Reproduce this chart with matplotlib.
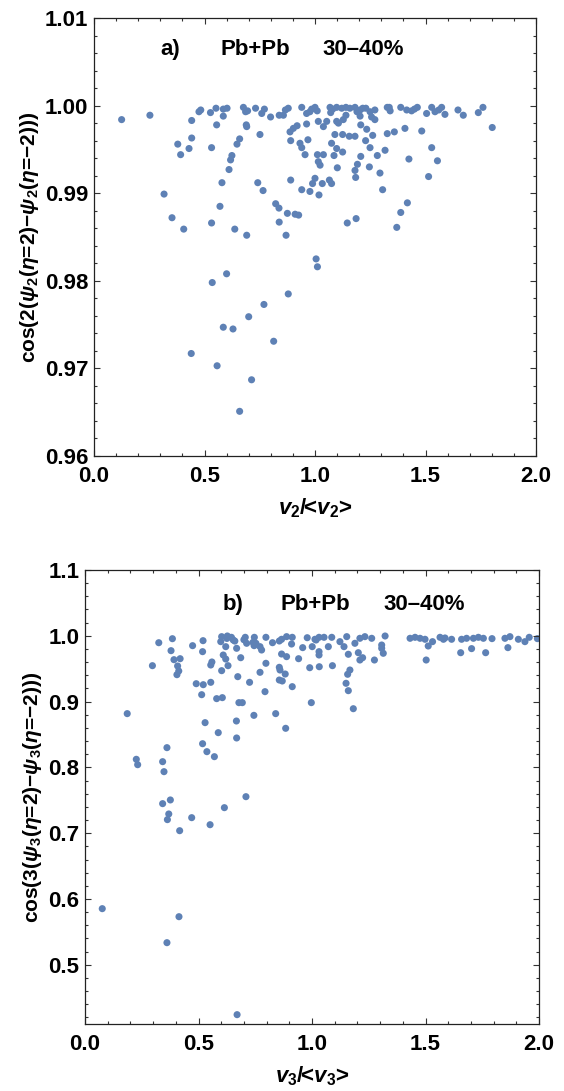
"""
Event-plane decorrelation between eta=+2 and eta=-2 vs normalized flow,
Pb+Pb 30-40%: (a) second harmonic, (b) third harmonic.
"""
import matplotlib
matplotlib.use('Agg')
import matplotlib.pyplot as plt
from matplotlib.ticker import MultipleLocator, FormatStrFormatter

# panel a) v2/<v2> vs cos(2(psi2(eta=2)-psi2(eta=-2)))
v2_ratio = [
    0.125, 0.253, 0.317, 0.353, 0.379, 0.392, 0.406, 0.430, 0.442, 0.442,
    0.475, 0.483, 0.532, 0.527, 0.532, 0.552, 0.555, 0.570, 0.579, 0.585,
    0.585, 0.602, 0.611, 0.618, 0.624, 0.637, 0.647, 0.659, 0.676, 0.686,
    0.689, 0.691, 0.695, 0.731, 0.741, 0.751, 0.759, 0.765, 0.771, 0.799,
    0.822, 0.837, 0.838, 0.838, 0.857, 0.875, 0.866, 0.879, 0.887, 0.890,
    0.890, 0.902, 0.910, 0.919, 0.926, 0.932,
    0.691, 0.869, 1.005, 1.011, 0.535, 0.600, 0.879, 0.769, 0.700, 0.585,
    0.629, 0.813, 0.440, 0.557, 0.713, 0.659,
    0.940, 0.962, 0.977, 1.000, 1.068, 1.071, 1.098, 1.121, 1.158, 1.181,
    1.204, 1.216, 1.249, 1.271, 1.327, 1.336, 1.388, 1.415, 1.437, 1.463,
    1.505, 1.528, 1.543, 1.573, 1.588, 1.647, 1.671, 1.739, 1.760, 1.802,
    0.985, 1.010, 1.080, 1.140, 1.190, 1.230, 1.340, 1.450, 1.560,
    0.962, 1.015, 1.038, 1.053, 1.098, 1.106, 1.128, 1.140, 1.204, 1.207,
    1.256, 1.271, 1.234, 1.261, 1.090, 1.125, 1.155, 1.181, 1.229, 1.327,
    1.359, 1.407, 1.483, 0.968, 1.075, 1.098, 1.125, 0.940, 0.955, 1.011,
    1.038, 1.015, 1.023, 1.086, 1.101, 1.207, 1.192, 1.181, 1.246, 1.249,
    1.282, 1.317, 1.425, 1.528, 1.554, 1.184, 1.294, 1.306, 1.514, 1.000,
    0.989, 1.033, 1.065, 1.075, 0.940, 0.977, 1.018, 1.418, 1.388, 1.370,
    1.146, 1.186,
]
cos2 = [
    0.9984, 0.9989, 0.9899, 0.9872, 0.9956, 0.9944, 0.9859, 0.9951, 0.9963, 0.9983,
    0.9993, 0.9995, 0.9952, 0.9992, 0.9866, 0.9997, 0.9978, 0.9885, 0.9912, 0.9988,
    0.9996, 0.9997, 0.9927, 0.9938, 0.9943, 0.9859, 0.9956, 0.9962, 0.9998, 0.9993,
    0.9978, 0.9976, 0.9994, 0.9997, 0.9912, 0.9967, 0.9991, 0.9903, 0.9996, 0.9987,
    0.9888, 0.9883, 0.9867, 0.9989, 0.9989, 0.9877, 0.9995, 0.9997, 0.9970, 0.9960,
    0.9915, 0.9974, 0.9876, 0.9977, 0.9875, 0.9957,
    0.9852, 0.9852, 0.9825, 0.9816, 0.9798, 0.9808, 0.9785, 0.9773, 0.9759, 0.9747,
    0.9745, 0.9731, 0.9717, 0.9703, 0.9687, 0.9651,
    0.9998, 0.9991, 0.9993, 0.9998, 0.9998, 0.9992, 0.9998, 0.9997, 0.9997, 0.9998,
    0.9995, 0.9997, 0.9993, 0.9995, 0.9998, 0.9998, 0.9998, 0.9995, 0.9994, 0.9998,
    0.9991, 0.9998, 0.9993, 0.9998, 0.9990, 0.9995, 0.9989, 0.9992, 0.9998, 0.9975,
    0.9996, 0.9994, 0.9996, 0.9998, 0.9993, 0.9997, 0.9994, 0.9996, 0.9995,
    0.9979, 0.9982, 0.9976, 0.9982, 0.9982, 0.9980, 0.9984, 0.9989, 0.9988, 0.9978,
    0.9987, 0.9984, 0.9973, 0.9966, 0.9967, 0.9967, 0.9965, 0.9965, 0.9960, 0.9968,
    0.9970, 0.9974, 0.9971, 0.9961, 0.9957, 0.9951, 0.9947, 0.9952, 0.9944, 0.9944,
    0.9944, 0.9936, 0.9932, 0.9943, 0.9929, 0.9942, 0.9933, 0.9926, 0.9930, 0.9952,
    0.9943, 0.9949, 0.9939, 0.9952, 0.9937, 0.9918, 0.9923, 0.9904, 0.9919, 0.9917,
    0.9911, 0.9911, 0.9915, 0.9911, 0.9904, 0.9902, 0.9898, 0.9889, 0.9878, 0.9861,
    0.9866, 0.9871,
]

# panel b) v3/<v3> vs cos(3(psi3(eta=2)-psi3(eta=-2)))
v3_ratio = [
    0.186, 0.297, 0.325, 0.385, 0.379, 0.392, 0.419, 0.408, 0.413, 0.405,
    0.474, 0.520, 0.518, 0.554, 0.559, 0.490, 0.521, 0.554, 0.514, 0.529,
    0.580, 0.605, 0.587, 0.602, 0.627, 0.598, 0.620, 0.653, 0.668, 0.609,
    0.620, 0.630, 0.602, 0.686, 0.673, 0.678, 0.693, 0.667, 0.668, 0.706,
    0.712, 0.746, 0.753, 0.771, 0.778, 0.725, 0.771, 0.797, 0.793, 0.744,
    0.797, 0.826, 0.856, 0.866, 0.888, 0.913, 0.910, 0.866, 0.888, 0.856,
    0.859, 0.882, 0.856, 0.869, 0.913, 0.840, 0.884, 0.941, 0.959, 0.979,
    0.990, 1.001, 0.997, 1.018,
    0.625, 0.645, 0.660, 0.700, 0.740, 0.745,
    0.226, 0.232, 0.361, 0.342, 0.348, 0.518, 0.537, 0.570, 0.342, 0.376,
    0.369, 0.363, 0.470, 0.417, 0.551, 0.614, 0.709, 0.076, 0.414, 0.361,
    0.670,
    1.013, 1.031, 1.053, 1.072, 1.087, 1.031, 1.031, 1.032, 1.090, 1.123,
    1.153, 1.141, 1.160, 1.189, 1.204, 1.211, 1.223, 1.211, 1.233, 1.263,
    1.275, 1.307, 1.307, 1.314, 1.322, 1.167, 1.157, 1.150, 1.160, 1.182,
    1.432, 1.454, 1.476, 1.498, 1.512, 1.531, 1.503, 1.564, 1.579, 1.586,
    1.615, 1.655, 1.659, 1.681, 1.703, 1.711, 1.733, 1.755, 1.765, 1.793,
    1.850, 1.872, 1.863, 1.909, 1.938, 1.957, 1.993,
]
cos3 = [
    0.8817, 0.9546, 0.9895, 0.9956, 0.9774, 0.9637, 0.9652, 0.9541, 0.9465, 0.9409,
    0.9850, 0.9926, 0.9759, 0.9556, 0.9602, 0.9272, 0.9257, 0.9293, 0.9105, 0.8680,
    0.9045, 0.9060, 0.8528, 0.9987, 0.9997, 0.9911, 0.9835, 0.9936, 0.9810, 0.9708,
    0.9647, 0.9546, 0.9470, 0.9667, 0.9379, 0.8984, 0.8984, 0.8705, 0.8447, 0.9977,
    0.9886, 0.9977, 0.9886, 0.9835, 0.9784, 0.9293, 0.9445, 0.9582, 0.9151, 0.8791,
    0.9977, 0.9895, 0.9921, 0.9947, 0.9987, 0.9977, 0.9875, 0.9723, 0.9683, 0.9521,
    0.9480, 0.9419, 0.9328, 0.9313, 0.9227, 0.8817, 0.8594, 0.9652, 0.9820, 0.9971,
    0.9515, 0.9835, 0.8984, 0.9936,
    0.9960, 0.9977, 0.9920, 0.9940, 0.9900, 0.9850,
    0.8123, 0.8041, 0.8300, 0.8087, 0.7935, 0.8360, 0.8239, 0.8163, 0.7449, 0.7505,
    0.7292, 0.7206, 0.7236, 0.7038, 0.7129, 0.7388, 0.7555, 0.5853, 0.5731, 0.5336,
    0.4242,
    0.9947, 0.9977, 0.9977, 0.9835, 0.9977, 0.9759, 0.9708, 0.9530, 0.9546, 0.9911,
    0.9987, 0.9835, 0.9719, 0.9886, 0.9743, 0.9632, 0.9667, 0.9962, 0.9987, 0.9962,
    0.9632, 0.9860, 0.9810, 0.9734, 0.9997, 0.9480, 0.9415, 0.9278, 0.9166, 0.8892,
    0.9962, 0.9977, 0.9962, 0.9947, 0.9845, 0.9911, 0.9632, 0.9977, 0.9947, 0.9967,
    0.9947, 0.9743, 0.9947, 0.9962, 0.9805, 0.9962, 0.9977, 0.9962, 0.9743, 0.9957,
    0.9962, 0.9987, 0.9820, 0.9947, 0.9911, 0.9977, 0.9957,
]

POINT_COLOR = '#5e81b5'

plt.rcParams['font.family'] = ['Liberation Sans', 'DejaVu Sans']
plt.rcParams['font.weight'] = 'bold'
plt.rcParams['axes.labelweight'] = 'bold'
plt.rcParams['mathtext.fontset'] = 'custom'
plt.rcParams['mathtext.rm'] = 'Liberation Sans:bold'
plt.rcParams['mathtext.it'] = 'Liberation Sans:italic:bold'
plt.rcParams['mathtext.bf'] = 'Liberation Sans:bold'


def style_axes(ax, ymajor, yminor, yfmt):
    """Mathematica-like frame: ticks inside on all four sides."""
    ax.xaxis.set_major_locator(MultipleLocator(0.5))
    ax.xaxis.set_minor_locator(MultipleLocator(0.1))
    ax.yaxis.set_major_locator(MultipleLocator(ymajor))
    ax.yaxis.set_minor_locator(MultipleLocator(yminor))
    ax.xaxis.set_major_formatter(FormatStrFormatter('%.1f'))
    ax.yaxis.set_major_formatter(FormatStrFormatter(yfmt))
    ax.tick_params(which='both', direction='in', top=True, right=True,
                   labelsize=16, color='#333333', width=0.8)
    ax.tick_params(axis='x', which='major', pad=7)
    ax.tick_params(axis='y', which='major', pad=4)
    ax.tick_params(which='major', length=4.5)
    ax.tick_params(which='minor', length=2.3)
    for spine in ax.spines.values():
        spine.set_linewidth(0.9)
        spine.set_color('#222222')


def add_label(ax, tag, y, xs):
    for x, s in zip(xs, (tag, 'Pb+Pb', '30–40%')):
        ax.text(x, y, s, transform=ax.transAxes, ha='center', va='center',
                fontsize=16, fontweight='bold')


def plot_decorrelation(output_path='out.png'):
    fig = plt.figure(figsize=(5.64, 10.91), dpi=100)

    ax1 = fig.add_axes([94 / 564, 1 - 456 / 1091, 442 / 564, 438 / 1091])
    ax1.scatter(v2_ratio, cos2, s=26, color=POINT_COLOR, edgecolors='none')
    ax1.set_xlim(0, 2)
    ax1.set_ylim(0.96, 1.01)
    style_axes(ax1, 0.01, 0.002, '%.2f')
    ax1.set_xlabel('$v_2$/<$v_2$>', fontsize=16, fontweight='bold', labelpad=7)
    ax1.set_ylabel('cos(2($\\psi_2$($\\eta$=2)−$\\psi_2$($\\eta$=−2)))',
                   fontsize=15, fontweight='bold', labelpad=3)
    add_label(ax1, 'a)', y=0.927, xs=(0.172, 0.364, 0.609))

    ax2 = fig.add_axes([85 / 564, 1 - 1024 / 1091, 454 / 564, 454 / 1091])
    ax2.scatter(v3_ratio, cos3, s=26, color=POINT_COLOR, edgecolors='none')
    ax2.set_xlim(0, 2)
    ax2.set_ylim(0.41, 1.1)
    style_axes(ax2, 0.1, 0.02, '%.1f')
    ax2.set_xlabel('$v_3$/<$v_3$>', fontsize=16, fontweight='bold', labelpad=7)
    ax2.set_ylabel('cos(3($\\psi_3$($\\eta$=2)−$\\psi_3$($\\eta$=−2)))',
                   fontsize=15, fontweight='bold', labelpad=3)
    add_label(ax2, 'b)', y=0.925, xs=(0.326, 0.508, 0.747))

    fig.savefig(output_path, dpi=100)
    print(f'Graph saved to {output_path}')


if __name__ == '__main__':
    plot_decorrelation()
